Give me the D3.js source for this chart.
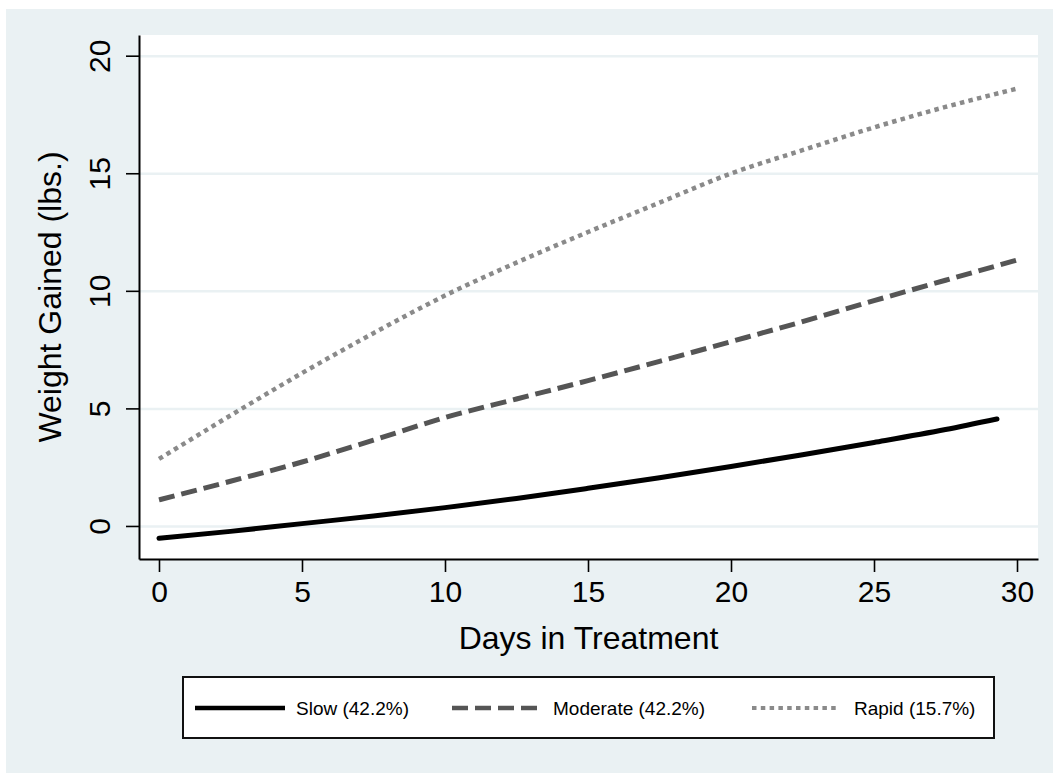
<!DOCTYPE html>
<html>
<head>
<meta charset="utf-8">
<script src="https://cdn.jsdelivr.net/npm/d3@7"></script>
<style>
  body { margin: 0; background: #fff; }
  svg { display: block; font-family: "Liberation Sans", Arial, sans-serif; }
</style>
</head>
<body>
<svg id="chart" width="1053" height="773"></svg>
<script>
// values
const days = [0, 2.5, 5, 7.5, 10, 12.5, 15, 17.5, 20, 22.5, 25, 27.5, 30];
const slowDays = [0, 2.5, 5, 7.5, 10, 12.5, 15, 17.5, 20, 22.5, 25, 27.5, 29.3];
const slowValues = [-0.52, -0.23, 0.1, 0.42, 0.78, 1.17, 1.6, 2.05, 2.53, 3.03, 3.55, 4.1, 4.55];
const moderateValues = [1.11, 1.9, 2.72, 3.65, 4.61, 5.4, 6.18, 7.0, 7.84, 8.69, 9.58, 10.45, 11.31];
const rapidValues = [2.85, 4.7, 6.5, 8.2, 9.8, 11.2, 12.5, 13.75, 14.99, 15.98, 16.95, 17.82, 18.6];
const xTicks = [0, 5, 10, 15, 20, 25, 30];
const yTicks = [0, 5, 10, 15, 20];
const legendLabels = ["Slow (42.2%)", "Moderate (42.2%)", "Rapid (15.7%)"];

const bg = "#eaf1f3";
const W = 1053, H = 773;
const plot = { left: 139, right: 1038, top: 35, bottom: 559 };

const svg = d3.select("#chart");

// outer graph region
svg.append("rect").attr("x", 6).attr("y", 9)
  .attr("width", W - 6).attr("height", H - 9).attr("fill", bg);

// plot region
svg.append("rect")
  .attr("x", plot.left).attr("y", plot.top)
  .attr("width", plot.right - plot.left).attr("height", plot.bottom - plot.top)
  .attr("fill", "#fff");

const x = d3.scaleLinear().domain([-0.699, 30.734]).range([plot.left, plot.right]);
const y = d3.scaleLinear().domain([-1.405, 20.88]).range([plot.bottom, plot.top]);

// grid lines
svg.append("g")
  .attr("transform", `translate(${plot.left},0)`)
  .call(d3.axisLeft(y).tickValues(yTicks).tickSize(-(plot.right - plot.left)).tickFormat(""))
  .call((g) => g.select(".domain").remove())
  .selectAll("line")
  .attr("stroke", bg)
  .attr("stroke-width", 2.5);

// series
const series = [
  { days: slowDays, values: slowValues, color: "#000", width: 5, dash: null, cap: "round" },
  { days: days, values: moderateValues, color: "#555", width: 5, dash: "16,7", cap: "butt" },
  { days: days, values: rapidValues, color: "#8a8a8a", width: 4.5, dash: "4.5,4.3", cap: "butt" },
];

const line = d3.line()
  .x((d) => x(d[0]))
  .y((d) => y(d[1]))
  .curve(d3.curveMonotoneX);

series.forEach((s) => {
  svg.append("path")
    .datum(s.days.map((d, i) => [d, s.values[i]]))
    .attr("fill", "none")
    .attr("stroke", s.color)
    .attr("stroke-width", s.width)
    .attr("stroke-dasharray", s.dash)
    .attr("stroke-linecap", s.cap)
    .attr("d", line);
});

// Y axis
const yAxis = svg.append("g")
  .attr("transform", `translate(${plot.left},0)`)
  .call(d3.axisLeft(y).tickValues(yTicks).tickSize(13).tickSizeOuter(0));
yAxis.select(".domain").attr("stroke", "#000").attr("stroke-width", 2);
yAxis.selectAll(".tick line").attr("stroke", "#000").attr("stroke-width", 1.6);
yAxis.selectAll(".tick text")
  .attr("x", null).attr("dy", null)
  .attr("transform", "translate(-29,0) rotate(-90)")
  .attr("text-anchor", "middle")
  .attr("font-size", 30)
  .attr("fill", "#000");

// X axis
const xAxis = svg.append("g")
  .attr("transform", `translate(0,${plot.bottom})`)
  .call(d3.axisBottom(x).tickValues(xTicks).tickSize(13).tickSizeOuter(0));
xAxis.select(".domain").attr("stroke", "#000").attr("stroke-width", 2);
xAxis.selectAll(".tick line").attr("stroke", "#000").attr("stroke-width", 1.6);
xAxis.selectAll(".tick text")
  .attr("y", 43).attr("dy", null)
  .attr("font-size", 30)
  .attr("fill", "#000");

svg.selectAll("g").attr("font-family", null);

// axis titles
svg.append("text")
  .attr("x", (plot.left + plot.right) / 2)
  .attr("y", 649)
  .attr("text-anchor", "middle")
  .attr("font-size", 32)
  .attr("fill", "#000")
  .text("Days in Treatment");

svg.append("text")
  .attr("transform", `translate(61,${(plot.top + plot.bottom) / 2}) rotate(-90)`)
  .attr("text-anchor", "middle")
  .attr("font-size", 32)
  .attr("fill", "#000")
  .text("Weight Gained (lbs.)");

// legend
const legend = svg.append("g");
legend.append("rect")
  .attr("x", 183).attr("y", 677).attr("width", 811).attr("height", 61)
  .attr("fill", "#fff").attr("stroke", "#111").attr("stroke-width", 2);

const keyX = [195, 452, 752];
const keyLen = [90, 85, 86];
const labelX = [296, 553, 854];
series.forEach((s, i) => {
  legend.append("line")
    .attr("x1", keyX[i]).attr("x2", keyX[i] + keyLen[i])
    .attr("y1", 708).attr("y2", 708)
    .attr("stroke", s.color)
    .attr("stroke-width", s.width - 0.5)
    .attr("stroke-dasharray", s.dash);
  legend.append("text")
    .attr("x", labelX[i]).attr("y", 715)
    .attr("font-size", 19)
    .attr("fill", "#000")
    .text(legendLabels[i]);
});
</script>
</body>
</html>
